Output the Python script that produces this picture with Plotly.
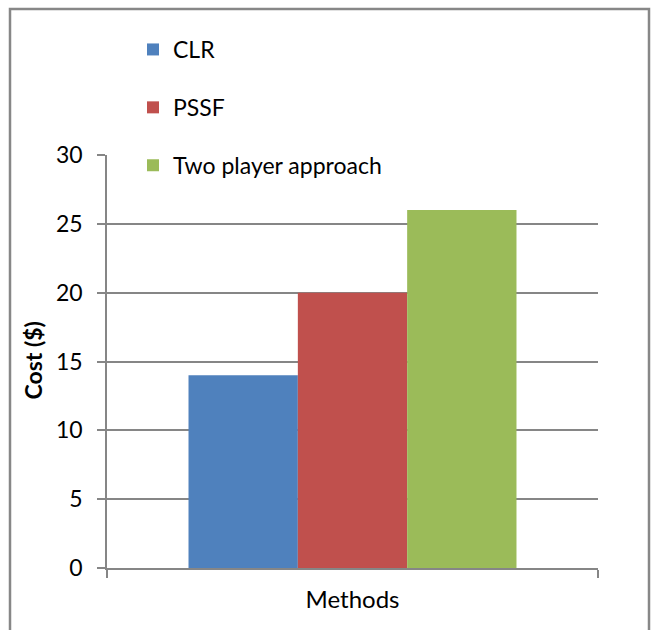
import plotly.graph_objects as go

categories = ["Methods"]
series_names = ["CLR", "PSSF", "Two player approach"]
series_values = [[14], [20], [26]]
colors = ["#4F81BD", "#C0504D", "#9BBB59"]
y_ticks = [0, 5, 10, 15, 20, 25, 30]

W, H = 651, 630
L, R, T, B = 107, 53, 155, 62
pw, ph = W - L - R, H - T - B

def px(x):
    return (x - L) / pw

def py(y):
    return (H - B - y) / ph

FONT = "Lato, Carlito, Calibri, sans-serif"
GRID = "#868686"

fig = go.Figure()
for name, vals, c in zip(series_names, series_values, colors):
    fig.add_trace(go.Bar(x=categories, y=vals, name=name, marker_color=c,
                         marker_line_width=0, legendgroup=name))

fig.update_layout(
    width=W, height=H,
    margin=dict(l=L, r=R, t=T, b=B, autoexpand=False),
    paper_bgcolor="white", plot_bgcolor="white",
    barmode="group", bargap=0.332, bargroupgap=0,
    font=dict(family=FONT, color="black", size=22),
    showlegend=True,
    legend=dict(x=px(133), y=py(28), xanchor="left", yanchor="top",
                bgcolor="rgba(0,0,0,0)", traceorder="grouped",
                tracegroupgap=25, font=dict(size=23, family=FONT),
                itemwidth=30),
    xaxis=dict(showline=True, linecolor=GRID, linewidth=1.5,
               ticks="outside", tickson="boundaries", ticklen=8,
               tickcolor=GRID, tickwidth=1.5,
               tickfont=dict(size=24, family=FONT), showgrid=False,
               range=[-0.5, 0.5], ticklabelstandoff=9),
    yaxis=dict(range=[0, 30], tickvals=y_ticks, showline=True,
               linecolor=GRID, linewidth=1.5, ticks="outside", ticklen=8,
               tickcolor=GRID, tickwidth=1.5, showgrid=True,
               gridcolor=GRID, gridwidth=1.5,
               tickfont=dict(size=23, family=FONT), ticklabelstandoff=10,
               zeroline=False),
    shapes=[dict(type="rect", xref="paper", yref="paper",
                 x0=px(10), x1=px(649), y0=py(660), y1=py(9),
                 line=dict(color="#878787", width=2.5), layer="below")],
    annotations=[dict(text="<b>Cost ($)</b>", xref="paper", yref="paper",
                      x=px(32.5), y=py(361), textangle=-90, showarrow=False,
                      font=dict(size=23, family=FONT), xanchor="center",
                      yanchor="middle")],
)

fig.write_html("out.html")
